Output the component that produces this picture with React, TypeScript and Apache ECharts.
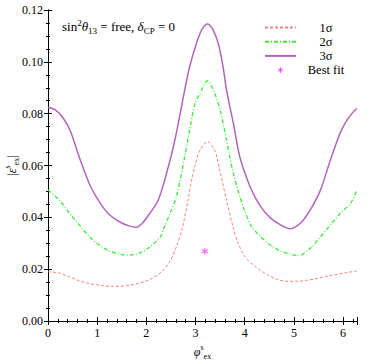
import React, { useEffect, useRef } from "react";
import * as echarts from "echarts";

// 1 sigma contour (phi, |eps|)
const sig1X = [0, 0.23, 0.44, 0.64, 0.85, 1.05, 1.25, 1.46, 1.66, 1.87, 2.07, 2.31, 2.48, 2.61, 2.72, 2.85, 2.92, 2.99, 3.09, 3.245, 3.39, 3.5, 3.63, 3.77, 3.87, 4.01, 4.18, 4.31, 4.45, 4.65, 4.86, 5.06, 5.26, 5.47, 5.67, 5.88, 6.08, 6.283];
const sig1Y = [0.019, 0.0185, 0.017, 0.0155, 0.0144, 0.0138, 0.0134, 0.0134, 0.0138, 0.0147, 0.016, 0.019, 0.023, 0.0286, 0.035, 0.047, 0.0544, 0.06, 0.0659, 0.0692, 0.0659, 0.0575, 0.0466, 0.0357, 0.0299, 0.0247, 0.0215, 0.0196, 0.018, 0.0161, 0.0153, 0.0153, 0.0157, 0.0164, 0.0173, 0.018, 0.0187, 0.0193];

// 2 sigma contour
const sig2X = [0, 0.23, 0.44, 0.64, 0.85, 1.05, 1.25, 1.46, 1.66, 1.87, 2.07, 2.28, 2.34, 2.48, 2.61, 2.78, 2.88, 2.99, 3.09, 3.245, 3.39, 3.5, 3.63, 3.77, 3.97, 4.14, 4.3, 4.52, 4.72, 4.92, 5.1, 5.33, 5.54, 5.74, 5.94, 6.15, 6.283];
const sig2Y = [0.0505, 0.0466, 0.0415, 0.037, 0.0324, 0.0292, 0.027, 0.0258, 0.0254, 0.0263, 0.0286, 0.0324, 0.035, 0.0415, 0.0479, 0.0634, 0.0737, 0.084, 0.0878, 0.0927, 0.0878, 0.0814, 0.0698, 0.0569, 0.044, 0.0365, 0.033, 0.0293, 0.0271, 0.0258, 0.0252, 0.028, 0.0324, 0.037, 0.0415, 0.0453, 0.0505];

// 3 sigma contour
const sig3X = [0, 0.15, 0.3, 0.45, 0.64, 0.85, 1.05, 1.25, 1.46, 1.66, 1.8, 1.93, 2.07, 2.24, 2.41, 2.58, 2.78, 2.88, 3.02, 3.13, 3.24, 3.35, 3.46, 3.56, 3.63, 3.77, 3.9, 4.11, 4.31, 4.51, 4.72, 4.92, 5.13, 5.33, 5.54, 5.74, 5.94, 6.08, 6.2, 6.283];
const sig3Y = [0.0825, 0.0815, 0.0785, 0.0735, 0.063, 0.0525, 0.0458, 0.041, 0.0382, 0.0366, 0.0362, 0.038, 0.0415, 0.0466, 0.0569, 0.0698, 0.0891, 0.0981, 0.1072, 0.1125, 0.1146, 0.1125, 0.1072, 0.0981, 0.0891, 0.0762, 0.0634, 0.0518, 0.0445, 0.04, 0.0372, 0.0356, 0.0377, 0.0428, 0.0505, 0.062, 0.0725, 0.0775, 0.0805, 0.082];

// best fit point
const bestFitX = [3.19];
const bestFitY = [0.0269];

const legendNames = ["1σ", "2σ", "3σ", "Best fit"];
const xTicks = [0, 1, 2, 3, 4, 5, 6];
const yTicks = [0, 0.02, 0.04, 0.06, 0.08, 0.1, 0.12];

const FONT = "Liberation Serif";

function asteriskPath(L: number, w: number, pad: number) {
  let d = "";
  [90, 30, -30].forEach((deg) => {
    const t = (deg * Math.PI) / 180;
    const dx = Math.cos(t), dy = Math.sin(t);
    const nx = -dy, ny = dx;
    const p = [
      [L * dx + w * nx, L * dy + w * ny],
      [L * dx - w * nx, L * dy - w * ny],
      [-L * dx - w * nx, -L * dy - w * ny],
      [-L * dx + w * nx, -L * dy + w * ny],
    ].map((q) => q.map((v) => v.toFixed(3)).join(","));
    d += `M${p[0]}L${p[1]}L${p[2]}L${p[3]}Z`;
  });
  if (pad > 0) d += `M${-pad},${-pad}L${-pad},${-pad}M${pad},${pad}L${pad},${pad}`;
  return "path://" + d;
}

function pairs(xs: number[], ys: number[]) {
  return xs.map((x, i) => [x, ys[i]]);
}

export default function App() {
  const ref = useRef<HTMLDivElement>(null);
  useEffect(() => {
    if (!ref.current) return;
    const chart = echarts.init(ref.current, undefined, { renderer: "svg" });
    const mk = (fs: number, extra: any) => ({ fontSize: fs, fontFamily: FONT, lineHeight: 17, color: "#000", ...extra });
    const sup = mk(8, { verticalAlign: "top" });
    const sub = mk(8, { verticalAlign: "bottom" });
    const ital = mk(12, { fontStyle: "italic" });
    const base = mk(12, {});
    const tsup = mk(9, { verticalAlign: "top" });
    const tsub = mk(9, { verticalAlign: "bottom" });
    const tital = mk(13, { fontStyle: "italic" });

    const axisCommon = {
      axisLine: { show: true, lineStyle: { color: "#000", width: 1 } },
      axisTick: { show: true, inside: true, length: 4, lineStyle: { color: "#000" } },
      minorTick: { show: true, length: 2, lineStyle: { color: "#000" } },
      splitLine: { show: false },
    };

    const xBase = {
      type: "value",
      min: 0,
      max: 2 * Math.PI,
      interval: 1,
      ...axisCommon,
      minorTick: { ...axisCommon.minorTick, splitNumber: 5 },
    };
    const yBase = {
      type: "value",
      min: 0,
      max: 0.12,
      interval: 0.02,
      ...axisCommon,
      minorTick: { ...axisCommon.minorTick, splitNumber: 4 },
    };

    chart.setOption({
      animation: false,
      backgroundColor: "#fff",
      grid: { left: 48, right: 25, top: 10, bottom: 43, containLabel: false, outerBoundsMode: "none" },
      xAxis: [
        {
          ...xBase,
          position: "bottom",
          axisLabel: {
            fontFamily: FONT,
            fontSize: 12,
            color: "#000",
            margin: 6,
            formatter: (v: number) => (xTicks.includes(v) ? String(v) : ""),
          },
          name: "{i|φ}{sup|s}{sub|ex}",
          nameLocation: "middle",
          nameGap: 22,
          nameMoveOverlap: false,
          nameTextStyle: { rich: { i: ital, sup, sub }, ...base },
        },
        { ...xBase, position: "top", axisLabel: { show: false } },
      ],
      yAxis: [
        {
          ...yBase,
          position: "left",
          axisLabel: {
            fontFamily: FONT,
            fontSize: 12,
            color: "#000",
            margin: 5,
            formatter: (v: number) => (yTicks.some((t) => Math.abs(t - v) < 1e-9) ? v.toFixed(2) : ""),
          },
          name: "|{i|ε}{sup|s}{sub|ex}|",
          nameLocation: "middle",
          nameGap: 28,
          nameRotate: 90,
          nameMoveOverlap: false,
          nameTextStyle: { rich: { i: ital, sup, sub }, ...base },
        },
        { ...yBase, position: "right", axisLabel: { show: false } },
      ],
      legend: {
        orient: "vertical",
        left: 264,
        top: 21,
        padding: 0,
        itemWidth: 31,
        itemHeight: 10,
        itemGap: 1.2,
        selectedMode: false,
        itemStyle: { opacity: 0 },
        data: [
          { name: legendNames[0] },
          { name: legendNames[1] },
          { name: legendNames[2] },
          { name: legendNames[3], icon: asteriskPath(5, 0.8, 9), itemStyle: { opacity: 1 } },
        ],
        formatter: (n: string) => `{t|${n}}`,
        textStyle: {
          fontFamily: FONT,
          fontSize: 12,
          color: "#000",
          rich: { t: { width: 50, align: "center", fontFamily: FONT, fontSize: 12.5, lineHeight: 14 } },
        },
      },
      graphic: [
        {
          type: "text",
          left: 62,
          top: 18,
          style: {
            text: "sin{sup|2}{i|θ}{sub|13} = free, {i|δ}{sub|CP} = 0",
            font: `13px ${FONT}`,
            fill: "#000",
            rich: { i: tital, sup: tsup, sub: tsub },
            lineHeight: 17,
          },
        },
      ],
      series: [
        {
          name: legendNames[0],
          type: "line",
          data: pairs(sig1X, sig1Y),
          showSymbol: false,
          symbol: "none",
          smooth: 0.3,
          lineStyle: { color: "#ff7f7f", width: 1, type: [3, 2] },
          itemStyle: { color: "#ff7f7f" },
        },
        {
          name: legendNames[1],
          type: "line",
          data: pairs(sig2X, sig2Y),
          showSymbol: false,
          symbol: "none",
          smooth: 0.3,
          lineStyle: { color: "#3aee3a", width: 1.3, type: [4, 2, 1, 2] },
          itemStyle: { color: "#3aee3a" },
        },
        {
          name: legendNames[2],
          type: "line",
          data: pairs(sig3X, sig3Y),
          showSymbol: false,
          symbol: "none",
          smooth: 0.3,
          lineStyle: { color: "#b264bd", width: 1.5 },
          itemStyle: { color: "#b264bd" },
        },
        {
          name: legendNames[3],
          type: "scatter",
          data: pairs(bestFitX, bestFitY),
          symbol: asteriskPath(5, 0.8, 0),
          symbolSize: 7,
          itemStyle: { color: "#f548f5" },
        },
      ],
    });
    return () => chart.dispose();
  }, []);
  return (
    <div
      ref={ref}
      style={{ position: "fixed", left: 0, top: 0, width: 382, height: 364, background: "#fff" }}
    />
  );
}
